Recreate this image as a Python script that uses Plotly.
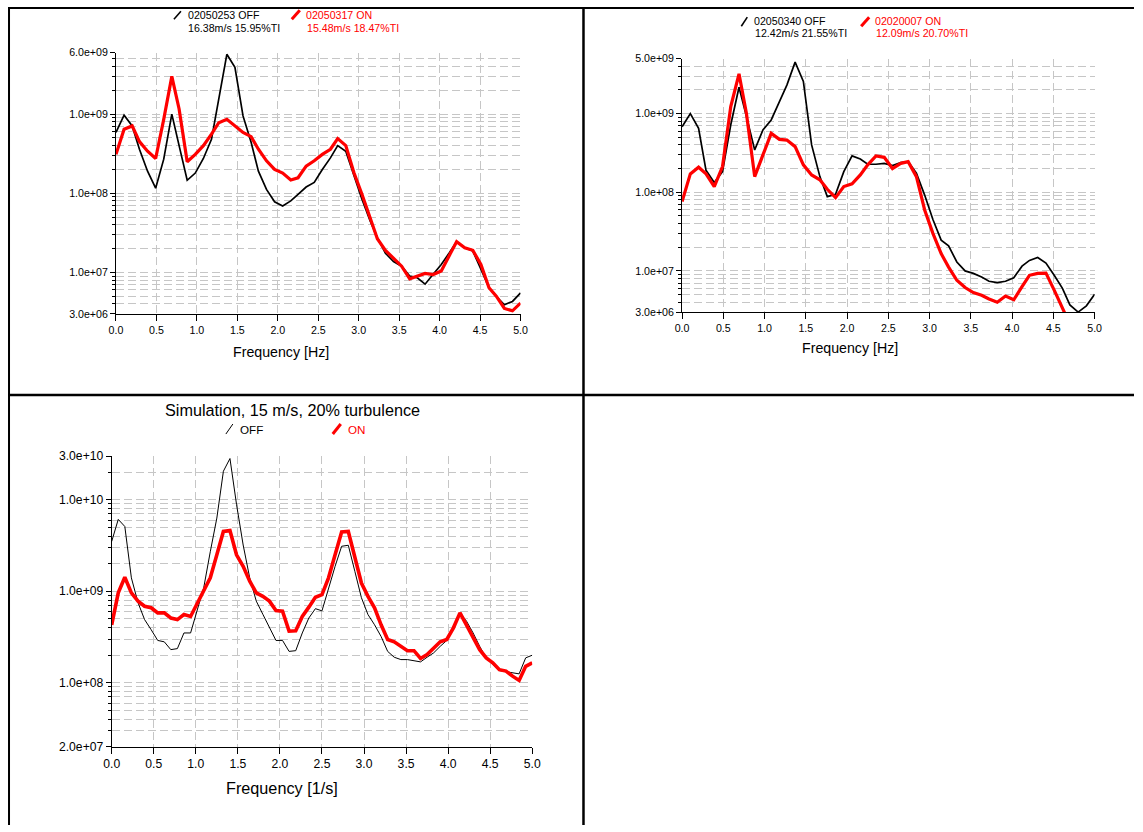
import math
import plotly.graph_objects as go

# ---------------- data ----------------
freq_meas = [0.00, 0.10, 0.20, 0.29, 0.39, 0.49, 0.59, 0.69, 0.78, 0.88,
             0.98, 1.08, 1.18, 1.27, 1.37, 1.47, 1.57, 1.67, 1.76, 1.86,
             1.96, 2.06, 2.16, 2.25, 2.35, 2.45, 2.55, 2.65, 2.74, 2.84,
             2.94, 3.04, 3.14, 3.23, 3.33, 3.43, 3.53, 3.63, 3.72, 3.82,
             3.92, 4.02, 4.12, 4.21, 4.31, 4.41, 4.51, 4.61, 4.70, 4.80,
             4.90, 5.00]

p1_off = [5.9e8, 9.7e8, 7.1e8, 3.6e8, 1.9e8, 1.16e8, 2.7e8, 1.0e9, 4.0e8, 1.46e8,
          1.8e8, 2.75e8, 4.8e8, 1.55e9, 5.7e9, 3.9e9, 9.5e8, 4.4e8, 1.9e8, 1.12e8,
          7.8e7, 6.9e7, 8.0e7, 9.7e7, 1.2e8, 1.37e8, 2.0e8, 2.8e8, 4.0e8, 3.4e8,
          1.66e8, 8.4e7, 4.5e7, 2.75e7, 1.75e7, 1.37e7, 1.2e7, 9.0e6, 8.6e6, 7.1e6,
          9.5e6, 1.26e7, 1.77e7, 2.44e7, 2.05e7, 1.86e7, 1.1e7, 6.4e6, 5.0e6, 3.9e6,
          4.3e6, 5.5e6]
p1_on = [3.1e8, 6.45e8, 7.1e8, 4.5e8, 3.4e8, 2.75e8, 8.6e8, 3.0e9, 1.16e9, 2.5e8,
         3.1e8, 4.0e8, 5.6e8, 7.8e8, 8.6e8, 7.1e8, 5.86e8, 5.2e8, 3.6e8, 2.57e8,
         2.0e8, 1.8e8, 1.47e8, 1.57e8, 2.2e8, 2.57e8, 3.1e8, 3.6e8, 4.9e8, 4.0e8,
         1.83e8, 9.7e7, 4.9e7, 2.66e7, 1.9e7, 1.5e7, 1.2e7, 8.3e6, 9.0e6, 9.7e6,
         9.4e6, 1.04e7, 1.64e7, 2.44e7, 2.05e7, 1.9e7, 1.26e7, 6.4e6, 5.0e6, 3.5e6,
         3.27e6, 4.1e6]

p2_off = [6.8e8, 1.0e9, 6.5e8, 1.9e8, 1.33e8, 1.83e8, 7.2e8, 2.16e9, 9.2e8, 3.45e8,
          6.2e8, 8.3e8, 1.42e9, 2.3e9, 4.5e9, 2.56e9, 4.0e8, 1.58e8, 8.8e7, 9.4e7,
          1.83e8, 2.9e8, 2.65e8, 2.27e8, 2.27e8, 2.33e8, 2.18e8, 2.38e8, 2.45e8, 1.75e8,
          9.2e7, 4.5e7, 2.46e7, 2.08e7, 1.3e7, 1.0e7, 9.3e6, 8.4e6, 7.4e6, 7.1e6,
          7.4e6, 8.2e6, 1.15e7, 1.36e7, 1.48e7, 1.26e7, 8.8e6, 6.0e6, 3.7e6, 3.0e6,
          3.6e6, 5.05e6]
p2_on = [7.6e7, 1.71e8, 2.08e8, 1.71e8, 1.18e8, 2.12e8, 1.23e9, 3.2e9, 1.0e9, 1.58e8,
         2.98e8, 5.6e8, 4.7e8, 4.6e8, 3.8e8, 2.23e8, 1.66e8, 1.44e8, 1.09e8, 8.55e7,
         1.18e8, 1.28e8, 1.66e8, 2.23e8, 2.9e8, 2.78e8, 2.0e8, 2.33e8, 2.45e8, 1.58e8,
         5.95e7, 3.0e7, 1.66e7, 1.12e7, 7.6e6, 6.15e6, 5.3e6, 4.9e6, 4.4e6, 4.0e6,
         4.8e6, 4.3e6, 6.3e6, 8.8e6, 9.3e6, 9.4e6, 5.7e6, 3.5e6, 2.1e6, 1.5e6,
         1.2e6, 1.0e6]

freq_sim = [0.000, 0.078, 0.156, 0.234, 0.313, 0.391, 0.469, 0.547, 0.625, 0.703,
            0.781, 0.859, 0.938, 1.016, 1.094, 1.172, 1.250, 1.328, 1.406, 1.484,
            1.563, 1.641, 1.719, 1.797, 1.875, 1.953, 2.031, 2.109, 2.188, 2.266,
            2.344, 2.422, 2.500, 2.578, 2.656, 2.734, 2.813, 2.891, 2.969, 3.047,
            3.125, 3.203, 3.281, 3.359, 3.438, 3.516, 3.594, 3.672, 3.750, 3.828,
            3.906, 3.984, 4.063, 4.141, 4.219, 4.297, 4.375, 4.453, 4.531, 4.609,
            4.688, 4.766, 4.844, 4.922, 5.000]

p3_off = [3.5e9, 6.1e9, 5.1e9, 1.4e9, 7.5e8, 4.9e8, 3.8e8, 2.9e8, 2.8e8, 2.3e8,
          2.36e8, 3.5e8, 3.5e8, 6.0e8, 1.09e9, 2.7e9, 6.3e9, 2.05e10, 2.82e10, 8.9e9,
          3.2e9, 1.4e9, 7.8e8, 5.6e8, 4.1e8, 2.9e8, 2.9e8, 2.2e8, 2.24e8, 3.5e8,
          5.1e8, 6.45e8, 6.1e8, 1.09e9, 1.87e9, 3.1e9, 3.18e9, 1.65e9, 8.5e8, 5.56e8,
          4.3e8, 3.2e8, 2.2e8, 1.9e8, 1.79e8, 1.79e8, 1.75e8, 1.69e8, 1.9e8, 2.12e8,
          2.5e8, 2.9e8, 3.98e8, 5.8e8, 4.7e8, 3.5e8, 2.5e8, 1.87e8, 1.58e8, 1.36e8,
          1.32e8, 1.29e8, 1.25e8, 1.87e8, 2.0e8]
p3_on = [4.3e8, 9.6e8, 1.42e9, 9.6e8, 7.8e8, 6.86e8, 6.6e8, 5.8e8, 5.8e8, 5.1e8,
         4.9e8, 5.56e8, 5.3e8, 7.45e8, 1.0e9, 1.4e9, 2.5e9, 4.5e9, 4.6e9, 2.5e9,
         1.87e9, 1.29e9, 9.6e8, 8.8e8, 7.8e8, 6.15e8, 6.05e8, 3.66e8, 3.7e8, 5.3e8,
         6.7e8, 8.6e8, 9.2e8, 1.4e9, 2.5e9, 4.45e9, 4.5e9, 2.3e9, 1.23e9, 8.8e8,
         6.6e8, 4.3e8, 2.97e8, 2.8e8, 2.5e8, 2.24e8, 2.24e8, 1.84e8, 2.03e8, 2.36e8,
         2.8e8, 2.97e8, 3.98e8, 5.8e8, 4.3e8, 3.09e8, 2.3e8, 1.87e8, 1.65e8, 1.39e8,
         1.34e8, 1.18e8, 1.06e8, 1.51e8, 1.65e8]

x_ticks = [0.0, 0.5, 1.0, 1.5, 2.0, 2.5, 3.0, 3.5, 4.0, 4.5, 5.0]
x_ticktext = ["0.0", "0.5", "1.0", "1.5", "2.0", "2.5", "3.0", "3.5", "4.0", "4.5", "5.0"]

p1_yticks = [3e6, 1e7, 1e8, 1e9, 6e9]
p1_ytext = ["3.0e+06", "1.0e+07", "1.0e+08", "1.0e+09", "6.0e+09"]
p2_yticks = [3e6, 1e7, 1e8, 1e9, 5e9]
p2_ytext = ["3.0e+06", "1.0e+07", "1.0e+08", "1.0e+09", "5.0e+09"]
p3_yticks = [2e7, 1e8, 1e9, 1e10, 3e10]
p3_ytext = ["2.0e+07", "1.0e+08", "1.0e+09", "1.0e+10", "3.0e+10"]

p1_yrange = [3e6, 6e9]
p2_yrange = [3e6, 5e9]
p3_yrange = [2e7, 3e10]

legend1 = [("02050253 OFF", "16.38m/s 15.95%TI"), ("02050317 ON", "15.48m/s 18.47%TI")]
legend2 = [("02050340 OFF", "12.42m/s 21.55%TI"), ("02020007 ON", "12.09m/s 20.70%TI")]
legend3 = ["OFF", "ON"]
title3 = "Simulation, 15 m/s, 20% turbulence"
xtitle_hz = "Frequency [Hz]"
xtitle_s = "Frequency [1/s]"

# ---------------- layout helpers ----------------
W, H = 1143, 832
# observed page transform: 8px body margin, then the page is scaled into the window
MARGIN = 8
SX = W / (W + 2 * MARGIN)
SY = H / (H + 2 * MARGIN)
FONT = "Liberation Sans, Arial, sans-serif"
GRID = "#c6c6c6"
RED = "#ff0000"
FS = 1 / SX  # compensate the slight downscale on font sizes


def px(x):
    """target window pixel x -> paper fraction"""
    return (x / SX - MARGIN) / W


def py(y):
    """target window pixel y -> paper fraction"""
    return 1 - (y / SY - MARGIN) / H


def minor_vals(lo, hi):
    out = []
    dec = 1.0
    while dec < hi * 10:
        for m in range(1, 10):
            v = m * dec
            if lo * 0.999 <= v <= hi * 1.001:
                out.append(v)
        dec *= 10
    return out


fig = go.Figure()

panels = [
    dict(dom_x=(116, 521), dom_y=(53.3, 314), yr=p1_yrange, yt=p1_yticks, ytt=p1_ytext,
         x=freq_meas, off=p1_off, on=p1_on, woff=1.7, won=3.2, fs=10.5),
    dict(dom_x=(682.7, 1095.7), dom_y=(59.3, 312.3), yr=p2_yrange, yt=p2_yticks, ytt=p2_ytext,
         x=freq_meas, off=p2_off, on=p2_on, woff=1.7, won=3.2, fs=10.5),
    dict(dom_x=(111.7, 532.7), dom_y=(456, 746), yr=p3_yrange, yt=p3_yticks, ytt=p3_ytext,
         x=freq_sim, off=p3_off, on=p3_on, woff=1.0, won=3.6, fs=12),
]

for i, p in enumerate(panels):
    n = i + 1
    sfx = "" if n == 1 else str(n)
    osfx = str(n + 3)
    xd = [px(p["dom_x"][0]), px(p["dom_x"][1])]
    yd = [py(p["dom_y"][1]), py(p["dom_y"][0])]
    yr = [math.log10(p["yr"][0]), math.log10(p["yr"][1])]
    mv = [v for v in minor_vals(p["yr"][0], p["yr"][1])
          if not any(abs(v - t) / t < 1e-6 for t in p["yt"])]

    fig.add_trace(go.Scatter(x=p["x"], y=p["off"], mode="lines", xaxis="x" + sfx, yaxis="y" + sfx,
                             line=dict(color="black", width=p["woff"]), showlegend=False))
    fig.add_trace(go.Scatter(x=p["x"], y=p["on"], mode="lines", xaxis="x" + sfx, yaxis="y" + sfx,
                             line=dict(color=RED, width=p["won"]), showlegend=False))

    tf = dict(family=FONT, size=p["fs"] * FS, color="black")
    fig.layout["xaxis" + sfx] = dict(
        domain=xd, anchor="y" + sfx, range=[0, 5], tickmode="array", tickvals=x_ticks,
        ticktext=x_ticktext, ticks="outside", ticklen=6, tickwidth=1, tickcolor="black",
        showline=True, linecolor="black", linewidth=1, showgrid=True, gridcolor=GRID,
        griddash="8px,4px", gridwidth=1, zeroline=False, tickfont=tf, fixedrange=True)
    fig.layout["yaxis" + sfx] = dict(
        domain=yd, anchor="x" + sfx, type="log", range=yr, tickmode="array", tickvals=p["yt"],
        ticktext=p["ytt"], ticks="outside", ticklen=5, tickwidth=1, tickcolor="black",
        showline=True, linecolor="black", linewidth=1, showgrid=True, gridcolor=GRID,
        griddash="8px,4px", gridwidth=1, zeroline=False, tickfont=tf, fixedrange=True,
        minor=dict(tickmode="array", tickvals=mv, ticks="outside", ticklen=3, tickwidth=1,
                   tickcolor="black", showgrid=True, gridcolor=GRID, griddash="8px,4px", gridwidth=1))
    # overlay axes providing the inner half of the crossing ticks
    fig.layout["xaxis" + osfx] = dict(
        overlaying="x" + sfx, anchor="y" + osfx, range=[0, 5], tickmode="array", tickvals=x_ticks,
        ticks="inside", ticklen=6, tickwidth=1, tickcolor="black", showticklabels=False,
        showgrid=False, showline=False, zeroline=False, fixedrange=True)
    fig.layout["yaxis" + osfx] = dict(
        overlaying="y" + sfx, anchor="x" + osfx, type="log", range=yr, tickmode="array",
        tickvals=p["yt"], ticks="inside", ticklen=4, tickwidth=1, tickcolor="black",
        showticklabels=False, showgrid=False, showline=False, zeroline=False, fixedrange=True,
        minor=dict(tickmode="array", tickvals=mv, ticks="inside", ticklen=3, tickwidth=1,
                   tickcolor="black", showgrid=False))

annotations = []
shapes = []


def text(x, y, s, size, color="black", anchor="left"):
    annotations.append(dict(xref="paper", yref="paper", x=px(x), y=py(y), text=s, showarrow=False,
                            xanchor=anchor, yanchor="middle",
                            font=dict(family=FONT, size=size * FS, color=color)))


def slash(x0, y0, x1, y1, color, width):
    shapes.append(dict(type="line", xref="paper", yref="paper", x0=px(x0), y0=py(y0),
                       x1=px(x1), y1=py(y1), line=dict(color=color, width=width)))


# panel 1 legend
slash(174, 20, 181, 12, "black", 1.6)
text(186, 16, legend1[0][0], 10.5)
text(186, 29, legend1[0][1], 10.5)
slash(292, 20, 300, 11, RED, 3)
text(304, 16, legend1[1][0], 10.5, RED)
text(305, 29, legend1[1][1], 10.5, RED)
text(281, 352, xtitle_hz, 14, anchor="center")

# panel 2 legend
slash(742, 27, 748, 18, "black", 1.6)
text(753, 22, legend2[0][0], 10.5)
text(754, 34, legend2[0][1], 10.5)
slash(862, 27, 870, 18, RED, 3)
text(874, 22, legend2[1][0], 10.5, RED)
text(875, 34, legend2[1][1], 10.5, RED)
text(851, 348, xtitle_hz, 14, anchor="center")

# panel 3 title/legend
text(293, 410, title3, 16, anchor="center")
slash(226, 434, 233, 424, "black", 1)
text(238, 429, legend3[0], 11.5)
slash(333, 434, 341, 424, RED, 3)
text(346, 429, legend3[1], 11.5, RED)
text(282, 787, xtitle_s, 16, anchor="center")

# frame lines of the page grid (top/left pushed to the figure edge)
shapes.append(dict(type="line", xref="paper", yref="paper", x0=0, x1=1, y0=0.9988, y1=0.9988,
                   line=dict(color="black", width=2)))
shapes.append(dict(type="line", xref="paper", yref="paper", x0=0.0009, x1=0.0009, y0=1, y1=0,
                   line=dict(color="black", width=2)))
shapes.append(dict(type="line", xref="paper", yref="paper", x0=px(584), x1=px(584), y0=1, y1=0,
                   line=dict(color="black", width=2.5)))
shapes.append(dict(type="line", xref="paper", yref="paper", x0=0, x1=1, y0=py(395), y1=py(395),
                   line=dict(color="black", width=2.5)))

fig.update_layout(width=W, height=H, autosize=False, margin=dict(l=0, r=0, t=0, b=0, pad=0),
                  paper_bgcolor="white", plot_bgcolor="white", showlegend=False,
                  annotations=annotations, shapes=shapes, font=dict(family=FONT, color="black"))

fig.write_html("out.html", config={"displayModeBar": False})
